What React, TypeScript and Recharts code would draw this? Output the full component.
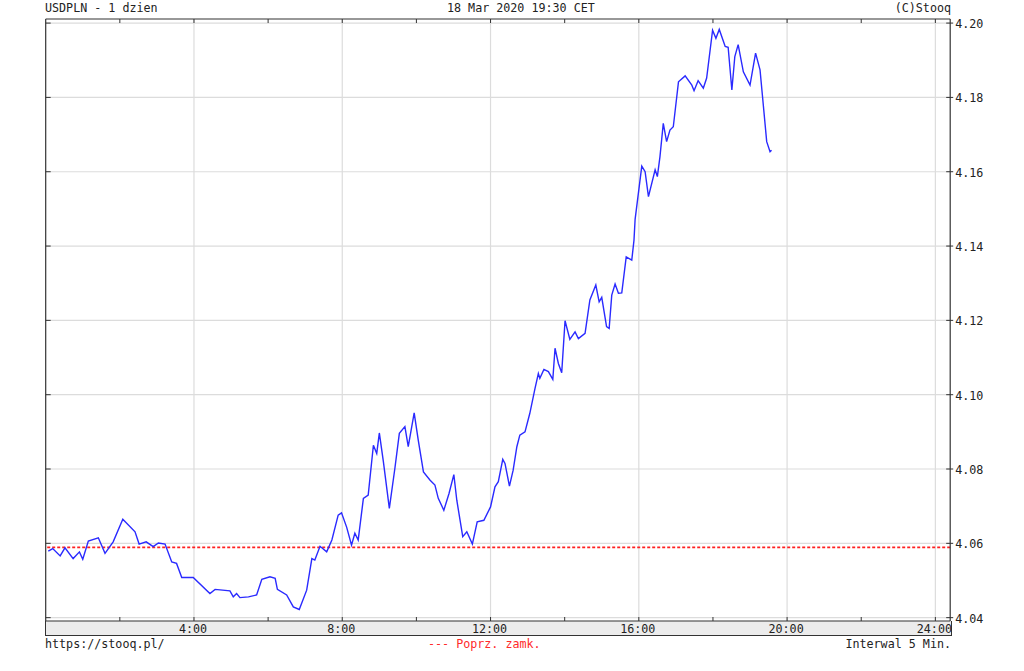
import { LineChart, Line, XAxis, YAxis, ReferenceLine } from 'recharts';

// 5-min quotes, time in hours (CET)
const hours = [
  0.07, 0.19, 0.39, 0.52, 0.74, 0.91, 1.0, 1.15, 1.42, 1.6, 1.82, 2.08, 2.41, 2.52, 2.71, 2.9, 3.04, 3.22, 3.4, 3.53,
  3.67, 3.98, 4.43, 4.57, 4.97, 5.06, 5.15, 5.24, 5.47, 5.69, 5.83, 6.05, 6.19, 6.25, 6.5, 6.68, 6.84, 7.04, 7.18, 7.26,
  7.4, 7.58, 7.72, 7.89, 7.98, 8.12, 8.25, 8.34, 8.43, 8.57, 8.7, 8.84, 8.93, 9.0, 9.11, 9.27, 9.42, 9.54, 9.69, 9.78,
  9.94, 10.05, 10.19, 10.37, 10.5, 10.59, 10.74, 10.88, 11.01, 11.09, 11.25, 11.36, 11.51, 11.64, 11.82, 12.0, 12.12, 12.21, 12.33, 12.39,
  12.51, 12.61, 12.71, 12.79, 12.93, 13.06, 13.2, 13.29, 13.33, 13.44, 13.56, 13.68, 13.74, 13.83, 13.92, 14.01, 14.14, 14.28, 14.37, 14.55,
  14.68, 14.84, 14.93, 15.0, 15.13, 15.2, 15.27, 15.36, 15.45, 15.54, 15.66, 15.81, 15.87, 15.9, 16.08, 16.17, 16.26, 16.44, 16.5, 16.57,
  16.66, 16.75, 16.84, 16.93, 17.07, 17.25, 17.43, 17.49, 17.6, 17.74, 17.83, 17.99, 18.08, 18.17, 18.33, 18.41, 18.51, 18.59, 18.68, 18.82,
  19.0, 19.15, 19.27, 19.45, 19.54, 19.58,
];
const prices = [
  4.0579, 4.0586, 4.0566, 4.0588, 4.0559, 4.0577, 4.0557, 4.0606, 4.0615, 4.0573, 4.0604, 4.0665, 4.0631, 4.0598, 4.0604, 4.0591, 4.0601, 4.0598, 4.055, 4.0546,
  4.0508, 4.0508, 4.0465, 4.0476, 4.0472, 4.0456, 4.0465, 4.0454, 4.0456, 4.0461, 4.0503, 4.051, 4.0506, 4.0476, 4.0461, 4.0429, 4.0422, 4.0474, 4.0559, 4.0555,
  4.0592, 4.0577, 4.0609, 4.0676, 4.0682, 4.0643, 4.0595, 4.0627, 4.0609, 4.0721, 4.073, 4.0864, 4.0842, 4.0897, 4.0819, 4.0694, 4.0802, 4.0896, 4.0914, 4.086,
  4.0951, 4.0878, 4.0792, 4.077, 4.0757, 4.0721, 4.0689, 4.0734, 4.0785, 4.0716, 4.0618, 4.0631, 4.0598, 4.0658, 4.0662, 4.0698, 4.0752, 4.0766, 4.0826, 4.0815,
  4.0754, 4.0797, 4.086, 4.0891, 4.09, 4.095, 4.1017, 4.1057, 4.1044, 4.1068, 4.1062, 4.1041, 4.1125, 4.1084, 4.1059, 4.1199, 4.1149, 4.1169, 4.1151, 4.1165,
  4.1255, 4.1295, 4.125, 4.1262, 4.1183, 4.1178, 4.1268, 4.1298, 4.1273, 4.1274, 4.1371, 4.1362, 4.1416, 4.1472, 4.1615, 4.16, 4.1533, 4.1605, 4.1587, 4.164,
  4.173, 4.1681, 4.1712, 4.1721, 4.1842, 4.1858, 4.1833, 4.1818, 4.1845, 4.1825, 4.1852, 4.1981, 4.1959, 4.1983, 4.1937, 4.1935, 4.182, 4.191, 4.1942, 4.1869,
  4.1833, 4.1919, 4.1874, 4.1681, 4.1654, 4.1658,
];
const prevClose = 4.0589;

const priceTicks = [4.04, 4.06, 4.08, 4.1, 4.12, 4.14, 4.16, 4.18, 4.2];
const hourTicks = [2, 4, 6, 8, 10, 12, 14, 16, 18, 20, 22, 24];
const gridHours = [4, 8, 12, 16, 20, 24];

const FONT = '"DejaVu Sans Mono", "Liberation Mono", monospace';
const FS = 11.7;
const INK = '#222';
const FRAME = '#333';
const GRID = '#dcdcdc';

const chartData = hours.map((h, i) => ({ h, price: prices[i] }));

function BottomTick({ x, y, payload }: any) {
  const h = payload.value as number;
  return (
    <g>
      <line x1={x} x2={x} y1={y - 4} y2={y} stroke={FRAME} />
      {h % 4 === 0 && (
        <text x={x - 1} y={y + 12} textAnchor="middle" fontFamily={FONT} fontSize={FS} fill={INK}>
          {`${h}:00`}
        </text>
      )}
    </g>
  );
}

function TopTick({ x, y }: any) {
  return <line x1={x} x2={x} y1={y} y2={y + 4} stroke={FRAME} />;
}

function RightTick({ x, y, payload }: any) {
  return (
    <g>
      <line x1={x - 4} x2={x + 3} y1={y} y2={y} stroke={FRAME} />
      <text x={x + 5} y={y + 5} textAnchor="start" fontFamily={FONT} fontSize={FS} fill={INK}>
        {(payload.value as number).toFixed(2)}
      </text>
    </g>
  );
}

function LeftTick({ x, y }: any) {
  return <line x1={x} x2={x + 5} y1={y} y2={y} stroke={FRAME} />;
}

const txt = (extra: any) => ({
  position: 'absolute' as const,
  fontFamily: FONT,
  fontSize: FS,
  lineHeight: '14px',
  color: INK,
  whiteSpace: 'pre' as const,
  ...extra,
});

const axisCommon = {
  type: 'number' as const,
  allowDataOverflow: true,
  interval: 0 as const,
  tickSize: 0,
  tickMargin: 0,
  tickLine: false,
  axisLine: { stroke: FRAME, strokeWidth: 1.2 },
};

export default function App() {
  const xDomain = [0, 24.4];
  const yDomain = [4.0391, 4.2011];

  return (
    <div style={{ position: 'absolute', left: 0, top: 0, width: 1024, height: 671, background: '#fff' }}>
      <div style={txt({ left: 45, top: 1 })}>USDPLN - 1 dzien</div>
      <div style={txt({ left: 447, top: 1 })}>18 Mar 2020 19:30 CET</div>
      <div style={txt({ right: 1024 - 951, top: 1 })}>(C)Stooq</div>

      {/* grey band under the plot holding the hour labels */}
      <div
        style={{
          position: 'absolute',
          left: 45,
          top: 621,
          width: 905,
          height: 14,
          background: '#ececec',
          borderLeft: `1px solid ${FRAME}`,
          borderRight: `1px solid ${FRAME}`,
          borderBottom: `1px solid ${FRAME}`,
        }}
      />

      <div style={{ position: 'absolute', left: 0, top: 0 }}>
        <LineChart
          width={1024}
          height={671}
          data={chartData}
          margin={{ top: 18, right: 72.8, bottom: 49, left: 44.7 }}
        >
          <XAxis
            {...axisCommon}
            xAxisId="b"
            dataKey="h"
            domain={xDomain}
            ticks={hourTicks}
            height={1}
            tick={(p: any) => <BottomTick {...p} />}
          />
          <XAxis
            {...axisCommon}
            xAxisId="t"
            orientation="top"
            dataKey="h"
            domain={xDomain}
            ticks={hourTicks}
            height={1}
            tick={(p: any) => <TopTick {...p} />}
          />
          <YAxis
            {...axisCommon}
            yAxisId="r"
            orientation="right"
            domain={yDomain}
            ticks={priceTicks}
            width={1}
            tick={(p: any) => <RightTick {...p} />}
          />
          <YAxis
            {...axisCommon}
            yAxisId="l"
            orientation="left"
            domain={yDomain}
            ticks={priceTicks}
            width={1}
            tick={(p: any) => <LeftTick {...p} />}
          />

          {priceTicks.map((v) => (
            <ReferenceLine key={`hy-${v}`} xAxisId="b" yAxisId="r" y={v} stroke={GRID} strokeWidth={1.2} />
          ))}
          {gridHours.map((h) => (
            <ReferenceLine key={`vx-${h}`} xAxisId="b" yAxisId="r" x={h} stroke={GRID} strokeWidth={1.2} />
          ))}
          <ReferenceLine
            xAxisId="b"
            yAxisId="r"
            y={prevClose}
            stroke="#ff2020"
            strokeWidth={1.6}
            strokeDasharray="3 2"
          />

          <Line
            xAxisId="b"
            yAxisId="r"
            type="linear"
            dataKey="price"
            stroke="#2a2aff"
            strokeWidth={1.4}
            dot={false}
            activeDot={false}
            isAnimationActive={false}
          />
        </LineChart>
      </div>

      <div style={txt({ left: 45, top: 637 })}>https://stooq.pl/</div>
      <div style={txt({ left: 428, top: 637, color: '#ff2a2a' })}>--- Poprz. zamk.</div>
      <div style={txt({ right: 1024 - 951, top: 637 })}>Interwal 5 Min.</div>
    </div>
  );
}
